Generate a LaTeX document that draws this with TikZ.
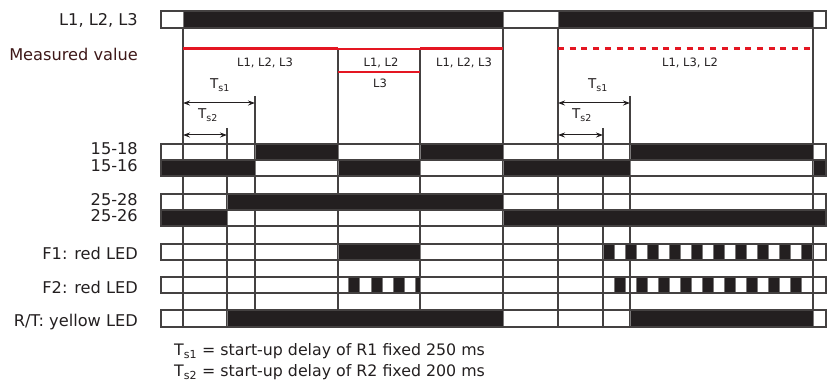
\documentclass[tikz,border=0pt]{standalone}
\usepackage{fontspec}
\setmainfont{DejaVu Sans}
\usetikzlibrary{arrows.meta}
\definecolor{abbred}{RGB}{228,22,34}
\definecolor{ink}{RGB}{35,31,32}
\definecolor{darkwine}{RGB}{62,24,24}

\begin{document}
\begin{tikzpicture}[
          x=1pt, y=-1pt,
          lbl/.style={anchor=base east,inner sep=0pt,text=ink,font=\fontsize{16.2}{19}\selectfont},
          phase/.style={anchor=base,inner sep=0pt,text=ink,font=\fontsize{11.5}{14}\selectfont},
          tlbl/.style={anchor=base,inner sep=0pt,text=ink,font=\fontsize{13.5}{16}\selectfont},
          note/.style={anchor=base west,inner sep=0pt,text=ink,font=\fontsize{15.8}{19}\selectfont},
          grid/.style={draw=ink!85,line width=1.2pt},
          frame/.style={draw=ink!85,line width=1.2pt},
          on/.style={fill=ink,draw=ink!60,line width=0.5pt},
          meas/.style={draw=abbred,line width=3pt},
          dim/.style={{Stealth[length=7pt,width=5pt]}-{Stealth[length=7pt,width=5pt]},line width=1pt,draw=ink}
        ]
        \useasboundingbox (0,0) rectangle (828,385);

        % time marks
        \foreach \x/\y in {183/28,227/128,255/96,338/49,420/49,503/28,558/28,603/128,630/96,813/28}
          \draw[grid] (\x,\y) -- (\x,327);

        % supply
        \draw[on] (183,11) rectangle (503,28) (558,11) rectangle (813,28);
        \draw[frame] (161,11) rectangle (826,28);

        % measured value
        \draw[meas] (183,49) -- (338,49) (420,49) -- (503,49);
        \draw[abbred,line width=2pt] (338,49) -- (420,49) (338,72) -- (420,72);
        \draw[meas,dash pattern=on 6pt off 5.7pt] (558,49) -- (813,49);

        % relay R1
        \foreach \a/\b in {255/338,420/503,630/813}
          \draw[on] (\a,144) rectangle (\b,160);
        \foreach \a/\b in {161/255,338/420,503/630,813/826}
          \draw[on] (\a,160) rectangle (\b,176);
        % relay R2
        \draw[on] (227,194) rectangle (503,210);
        \draw[on] (161,210) rectangle (227,226) (503,210) rectangle (826,226);
        % LEDs
        \draw[on] (338,244) rectangle (420,260);
        \foreach \k in {0,...,9}
          \draw[on] (603+22*\k,244) rectangle ++(11,16);
        \foreach \k in {0,1,2}
          \draw[on] (348.5+22.4*\k,277) rectangle ++(11.2,16);
        \draw[on] (415.7,277) rectangle (420,293);
        \foreach \k in {0,...,8}
          \draw[on] (614+22*\k,277) rectangle ++(11,16);
        \draw[on] (227,310) rectangle (503,327) (630,310) rectangle (813,327);

        \foreach \t/\b in {144/176,194/226,244/260,277/293,310/327}
          \draw[frame] (161,\t) rectangle (826,\b);
        \draw[frame] (161,160) -- (826,160) (161,210) -- (826,210);

        % delays
        \coordinate (a1) at (183,103);
        \coordinate (b1) at (255,103);
        \coordinate (a2) at (183,135);
        \coordinate (b2) at (227,135);
        \coordinate (c1) at (558,103);
        \coordinate (d1) at (630,103);
        \coordinate (c2) at (558,135);
        \coordinate (d2) at (603,135);
        \draw[dim] (a1) -- (b1);
        \draw[dim] (a2) -- (b2);
        \draw[dim] (c1) -- (d1);
        \draw[dim] (c2) -- (d2);
        \node[tlbl] (ts1a) at (220,89) {T\textsubscript{s1}};
        \node[tlbl] (ts2a) at (208,119) {T\textsubscript{s2}};
        \node[tlbl] (ts1b) at (598,89) {T\textsubscript{s1}};
        \node[tlbl] (ts2b) at (582,119) {T\textsubscript{s2}};

        % phase labels
        \node[phase] (p1) at (265,67) {L1, L2, L3};
        \node[phase] (p2) at (381,67) {L1, L2};
        \node[phase] (p3) at (380,88) {L3};
        \node[phase] (p4) at (464,67) {L1, L2, L3};
        \node[phase] (p5) at (690,67) {L1, L3, L2};

        % row labels
        \node[lbl] (supply) at (138,26) {L1, L2, L3};
        \node[lbl,text=darkwine] (meas) at (138,61) {Measured value};
        \node[lbl] (r1no) at (138,155) {15-18};
        \node[lbl] (r1nc) at (138,172) {15-16};
        \node[lbl] (r2no) at (138,205) {25-28};
        \node[lbl] (r2nc) at (138,222) {25-26};
        \node[lbl] (f1) at (138,259) {F1: red LED};
        \node[lbl] (f2) at (138,293) {F2: red LED};
        \node[lbl] (rt) at (138,326) {R/T: yellow LED};

        % legend
        \node[note] (n1) at (174,355) {T\textsubscript{s1} = start-up delay of R1 fixed 250 ms};
        \node[note] (n2) at (174,376) {T\textsubscript{s2} = start-up delay of R2 fixed 200 ms};
      \end{tikzpicture}
\end{document}
